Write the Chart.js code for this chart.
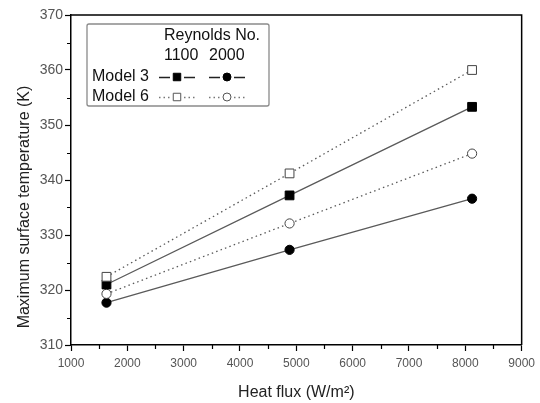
<!DOCTYPE html>
<html>
<head>
<meta charset="utf-8">
<script src="https://cdn.jsdelivr.net/npm/chart.js@4/dist/chart.umd.min.js"></script>
<style>
  html, body { margin: 0; padding: 0; background: #fff; }
  #wrap { width: 540px; height: 403px; }
</style>
</head>
<body>
<div id="wrap"><canvas id="c" width="540" height="403"></canvas></div>
<script>
// ---- data ----
const heatFlux = [1630, 4880, 8120];
const model3Re1100 = [321.0, 337.2, 353.3];
const model3Re2000 = [317.7, 327.3, 336.6];
const model6Re1100 = [322.4, 341.2, 360.0];
const model6Re2000 = [319.3, 332.1, 344.8];
const xTickValues = [1000, 2000, 3000, 4000, 5000, 6000, 7000, 8000, 9000];
const yTickValues = [310, 320, 330, 340, 350, 360, 370];
const xMinorTicks = [1500, 2500, 3500, 4500, 5500, 6500, 7500, 8500];
const yMinorTicks = [315, 325, 335, 345, 355, 365];
const xTitle = 'Heat flux (W/m\u00B2)';
const yTitle = 'Maximum surface temperature (K)';
const legendHeader = 'Reynolds No.';
const legendCols = ['1100', '2000'];
const legendRows = ['Model 3', 'Model 6'];

const FONT = '"Liberation Sans", Arial, Helvetica, sans-serif';
const LINE = '#5a5a5a';

function pts(ys) { return heatFlux.map((x, i) => ({ x: x, y: ys[i] })); }

function ds(label, ys, style, filled, dotted) {
  return {
    label: label,
    data: pts(ys),
    showLine: true,
    borderColor: LINE,
    borderWidth: 1.3,
    borderDash: dotted ? [1.5, 3.2] : [],
    pointStyle: style,
    pointRadius: style === 'rect' ? 6.2 : 4.6,
    pointBorderWidth: 1,
    pointBorderColor: filled ? '#000' : '#444',
    pointBackgroundColor: filled ? '#000' : '#fff',
    fill: false
  };
}

const frameAndMinor = {
  id: 'frameAndMinor',
  afterDraw(chart) {
    const ctx = chart.ctx;
    const a = chart.chartArea;
    const xs = chart.scales.x, ys = chart.scales.y;
    ctx.save();
    ctx.strokeStyle = '#000';
    ctx.lineWidth = 1.5;
    ctx.beginPath();
    ctx.moveTo(a.left, a.top);
    ctx.lineTo(a.right, a.top);
    ctx.lineTo(a.right, a.bottom);
    ctx.stroke();
    ctx.lineWidth = 1.2;
    ctx.beginPath();
    xMinorTicks.forEach(v => {
      const px = Math.round(xs.getPixelForValue(v)) + 0.5;
      ctx.moveTo(px, a.bottom);
      ctx.lineTo(px, a.bottom + 4);
    });
    yMinorTicks.forEach(v => {
      const py = Math.round(ys.getPixelForValue(v)) + 0.5;
      ctx.moveTo(a.left - 4, py);
      ctx.lineTo(a.left, py);
    });
    ctx.stroke();

    // y axis title
    ctx.fillStyle = '#222';
    ctx.font = '16px ' + FONT;
    ctx.textAlign = 'center';
    ctx.textBaseline = 'middle';
    ctx.translate(25, 207);
    ctx.rotate(-Math.PI / 2);
    ctx.fillText(yTitle, 0, 0);
    ctx.restore();
  }
};

const legendBox = {
  id: 'legendBox',
  afterDraw(chart) {
    const ctx = chart.ctx;
    ctx.save();
    ctx.strokeStyle = '#8a8a8a';
    ctx.lineWidth = 1.3;
    ctx.beginPath();
    if (ctx.roundRect) ctx.roundRect(87, 24, 182, 82, 2); else ctx.rect(87, 24, 182, 82);
    ctx.stroke();

    ctx.fillStyle = '#111';
    ctx.font = '16px ' + FONT;
    ctx.textBaseline = 'middle';
    ctx.textAlign = 'left';
    ctx.fillText(legendHeader, 164, 36);
    ctx.fillText(legendCols[0], 164, 56);
    ctx.fillText(legendCols[1], 209, 56);
    ctx.fillText(legendRows[0], 92, 77);
    ctx.fillText(legendRows[1], 92, 97);

    const cols = [177, 227];
    const rows = [77, 97];
    const styles = [['rect', 'circle'], ['rect', 'circle']];
    for (let r = 0; r < 2; r++) {
      for (let c = 0; c < 2; c++) {
        const cx = cols[c], cy = rows[r];
        ctx.strokeStyle = r === 0 ? '#222' : '#777';
        ctx.lineWidth = 1.3;
        ctx.setLineDash(r === 0 ? [] : [1.5, 3]);
        ctx.beginPath();
        ctx.moveTo(cx - 18, cy + 0.5); ctx.lineTo(cx - 7, cy + 0.5);
        ctx.moveTo(cx + 7, cy + 0.5); ctx.lineTo(cx + 18, cy + 0.5);
        ctx.stroke();
        ctx.setLineDash([]);
        ctx.fillStyle = r === 0 ? '#000' : '#fff';
        ctx.strokeStyle = r === 0 ? '#000' : '#555';
        ctx.lineWidth = 1;
        Chart.helpers.drawPoint(ctx, {
          pointStyle: styles[r][c],
          radius: styles[r][c] === 'rect' ? 5.3 : 4,
          borderWidth: 1,
          rotation: 0
        }, cx, cy);
      }
    }
    ctx.restore();
  }
};

new Chart(document.getElementById('c'), {
  type: 'scatter',
  data: {
    datasets: [
      ds('Model 6, Re 1100', model6Re1100, 'rect', false, true),
      ds('Model 3, Re 1100', model3Re1100, 'rect', true, false),
      ds('Model 6, Re 2000', model6Re2000, 'circle', false, true),
      ds('Model 3, Re 2000', model3Re2000, 'circle', true, false)
    ]
  },
  options: {
    responsive: false,
    animation: false,
    layout: { padding: { top: 15, right: 17, left: 0, bottom: 0 } },
    plugins: { legend: { display: false }, tooltip: { enabled: false } },
    scales: {
      x: {
        type: 'linear',
        min: 1000, max: 9000,
        afterFit(s) { s.height = 58; },
        afterBuildTicks(s) { s.ticks = xTickValues.map(v => ({ value: v })); },
        ticks: { color: '#555', font: { size: 12, family: FONT }, padding: 5, maxRotation: 0,
                 callback: v => String(v) },
        grid: { drawOnChartArea: false, drawTicks: true, tickLength: 6, tickColor: '#000', tickWidth: 1.2 },
        border: { display: true, color: '#000', width: 1.5 },
        title: { display: true, text: xTitle, color: '#222', font: { size: 16, family: FONT }, padding: { top: 0, bottom: 1 } }
      },
      y: {
        type: 'linear',
        min: 310, max: 370,
        afterFit(s) { s.width = 71; },
        afterBuildTicks(s) { s.ticks = yTickValues.map(v => ({ value: v })); },
        ticks: { color: '#555', font: { size: 14, family: FONT }, padding: 2, callback: v => String(v) },
        grid: { drawOnChartArea: false, drawTicks: true, tickLength: 6, tickColor: '#000', tickWidth: 1.2 },
        border: { display: true, color: '#000', width: 1.5 }
      }
    }
  },
  plugins: [frameAndMinor, legendBox]
});
</script>
</body>
</html>
